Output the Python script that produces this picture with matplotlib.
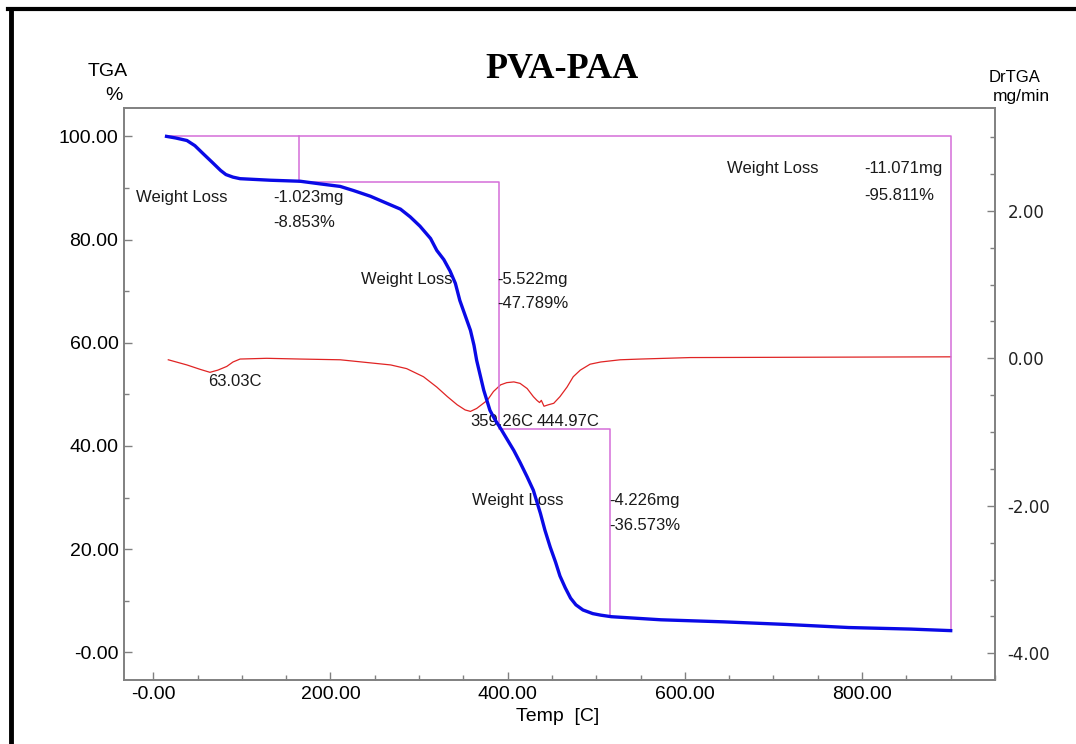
import numpy as np
import matplotlib.pyplot as plt
from matplotlib.lines import Line2D
from matplotlib.ticker import MultipleLocator, FuncFormatter

plt.rcParams['font.family'] = ['Liberation Sans', 'DejaVu Sans']

# TGA curve (weight %)
tga_temp = [15, 25, 38, 47, 56, 67, 76, 82, 90, 98, 132, 166, 188, 211, 226,
            245, 264, 279, 290, 301, 313, 320, 328, 335, 341, 346, 352, 358,
            362, 365, 373, 380, 386, 392, 400, 407, 414, 422, 429, 437, 442,
            448, 454, 459, 465, 471, 477, 485, 496, 505, 517, 573, 644, 714,
            785, 855, 900]
tga_weight = [100.0, 99.7, 99.2, 98.2, 96.7, 94.9, 93.4, 92.6, 92.1, 91.8,
              91.5, 91.3, 90.8, 90.3, 89.5, 88.4, 87.0, 85.9, 84.4, 82.6,
              80.2, 77.9, 76.1, 73.9, 71.5, 68.2, 65.3, 62.4, 59.5, 56.6,
              50.8, 46.9, 45.0, 43.4, 41.1, 39.1, 36.8, 34.0, 31.4, 26.9,
              23.7, 20.4, 17.5, 14.8, 12.5, 10.5, 9.2, 8.2, 7.5, 7.2, 6.9,
              6.3, 5.9, 5.4, 4.8, 4.5, 4.2]

# DrTGA curve (mg/min)
dtg_temp = [17, 38, 53, 64, 73, 83, 90, 98, 128, 166, 211, 268, 286, 305,
            320, 332, 343, 352, 358, 365, 377, 384, 392, 399, 407, 414, 422,
            429, 433, 436, 438, 441, 446, 452, 459, 467, 474, 482, 493, 505,
            527, 550, 606, 900]
dtg_rate = [-0.02, -0.09, -0.15, -0.19, -0.16, -0.11, -0.05, -0.01, 0.0,
            -0.01, -0.02, -0.09, -0.14, -0.25, -0.39, -0.52, -0.63, -0.70,
            -0.72, -0.68, -0.57, -0.45, -0.36, -0.33, -0.32, -0.34, -0.41,
            -0.52, -0.57, -0.60, -0.57, -0.65, -0.63, -0.61, -0.52, -0.39,
            -0.25, -0.16, -0.08, -0.05, -0.02, -0.01, 0.01, 0.02]

# weight loss steps
step_temp = [15, 165, 390, 515, 900]
step_loss_mg = [-1.023, -5.522, -4.226]
step_loss_pct = [-8.853, -47.789, -36.573]
total_loss_mg = -11.071
total_loss_pct = -95.811
peak_temp = [63.03, 359.26, 444.97]

W, H = 1076, 744
fig = plt.figure(figsize=(W / 100, H / 100), dpi=100)
ax = fig.add_axes([124 / W, 1 - 680 / H, 871 / W, 572 / H])
ax2 = ax.twinx()
ax.set_zorder(ax2.get_zorder() + 1)
ax.patch.set_visible(False)

ax.set_xlim(-33, 950)
ax.set_ylim(-5.37, 105.5)
ax2.set_ylim(-4.362, 3.394)

pink = '#d46ed8'
levels = 100 + np.cumsum([0] + step_loss_pct)
# total box
ax.plot([step_temp[0], step_temp[-1], step_temp[-1]],
        [100, 100, 100 + total_loss_pct], color=pink, lw=1.1)
# step brackets
bx, by = [], []
for i in range(3):
    bx += [step_temp[i + 1], step_temp[i + 1]]
    by += [levels[i], levels[i + 1]]
ax.plot(bx, by, color=pink, lw=1.1)

ax2.plot(dtg_temp, dtg_rate, color='#e02424', lw=0.9)
ax.plot(tga_temp, tga_weight, color='#0a0ae6', lw=2.4, zorder=5,
        solid_joinstyle='round')

# annotations
tc = '#1a1a1a'
fs = 12
txt = [(-19, 88.2), (234, 72.3), (360, 29.5)]
num_x = [135, 388, 515]
num_y = [(88.2, 83.4), (72.3, 67.6), (29.5, 24.5)]
for i in range(3):
    ax.text(txt[i][0], txt[i][1], 'Weight Loss', fontsize=fs, color=tc, va='center')
    ax.text(num_x[i], num_y[i][0], f'{step_loss_mg[i]:.3f}mg', fontsize=fs, color=tc, va='center')
    ax.text(num_x[i], num_y[i][1], f'{step_loss_pct[i]:.3f}%', fontsize=fs, color=tc, va='center')
ax.text(647, 93.8, 'Weight Loss', fontsize=fs, color=tc, va='center')
ax.text(803, 93.8, f'{total_loss_mg:.3f}mg', fontsize=fs, color=tc, va='center')
ax.text(803, 88.6, f'{total_loss_pct:.3f}%', fontsize=fs, color=tc, va='center')
for t, (px, py) in zip(peak_temp, [(62, 52.4), (358, 44.7), (433, 44.7)]):
    ax.text(px, py, f'{t:.2f}C', fontsize=fs, color=tc, va='center')

# axes styling
gray = '#808080'
for a in (ax, ax2):
    for s in a.spines.values():
        s.set_color(gray)
        s.set_linewidth(1.2)

def fmt(v, p):
    return '-0.00' if abs(v) < 1e-9 else f'{v:.2f}'

ax.xaxis.set_major_locator(MultipleLocator(200))
ax.xaxis.set_minor_locator(MultipleLocator(50))
ax.yaxis.set_major_locator(MultipleLocator(20))
ax.yaxis.set_minor_locator(MultipleLocator(10))
ax.xaxis.set_major_formatter(FuncFormatter(fmt))
ax.yaxis.set_major_formatter(FuncFormatter(fmt))
ax.tick_params(which='both', direction='in', color=gray, width=1,
               labelsize=14, pad=4, right=False, top=False)
ax.tick_params(which='major', length=6)
ax.tick_params(which='minor', length=3.5)

ax2.yaxis.set_major_locator(MultipleLocator(2))
ax2.yaxis.set_minor_locator(MultipleLocator(0.5))
ax2.yaxis.set_major_formatter(FuncFormatter(lambda v, p: f'{v:.2f}' if abs(v) > 1e-9 else '0.00'))
ax2.tick_params(which='both', direction='in', color=gray, width=1,
                labelsize=12, pad=9, labelcolor='#222222')
ax2.tick_params(which='major', length=6)
ax2.tick_params(which='minor', length=3.5)
for lab in ax2.get_yticklabels():
    lab.set_fontfamily('DejaVu Sans')

# labels around the plot
fig.text(562 / W, 1 - 69 / H, 'PVA-PAA', fontfamily='Liberation Serif',
         fontweight='bold', fontsize=26, ha='center', va='center')
fig.text(107.5 / W, 1 - 72 / H, 'TGA', fontsize=14, ha='center', va='center')
fig.text(114 / W, 1 - 96 / H, '%', fontsize=14, ha='center', va='center')
fig.text(1015 / W, 1 - 77.5 / H, 'DrTGA', fontsize=12, ha='center', va='center')
fig.text(993 / W, 1 - 97 / H, 'mg/min', fontsize=12.5, ha='left', va='center')
fig.text(558 / W, 1 - 716.5 / H, 'Temp  [C]', fontsize=14, ha='center', va='center')

# black frame lines (top and left)
fig.add_artist(Line2D([8 / W, 1], [1 - 9 / H, 1 - 9 / H], color='black', lw=3))
fig.add_artist(Line2D([10.5 / W, 10.5 / W], [0, 1 - 9 / H], color='black', lw=3.5))

fig.savefig('out.png', dpi=100)
